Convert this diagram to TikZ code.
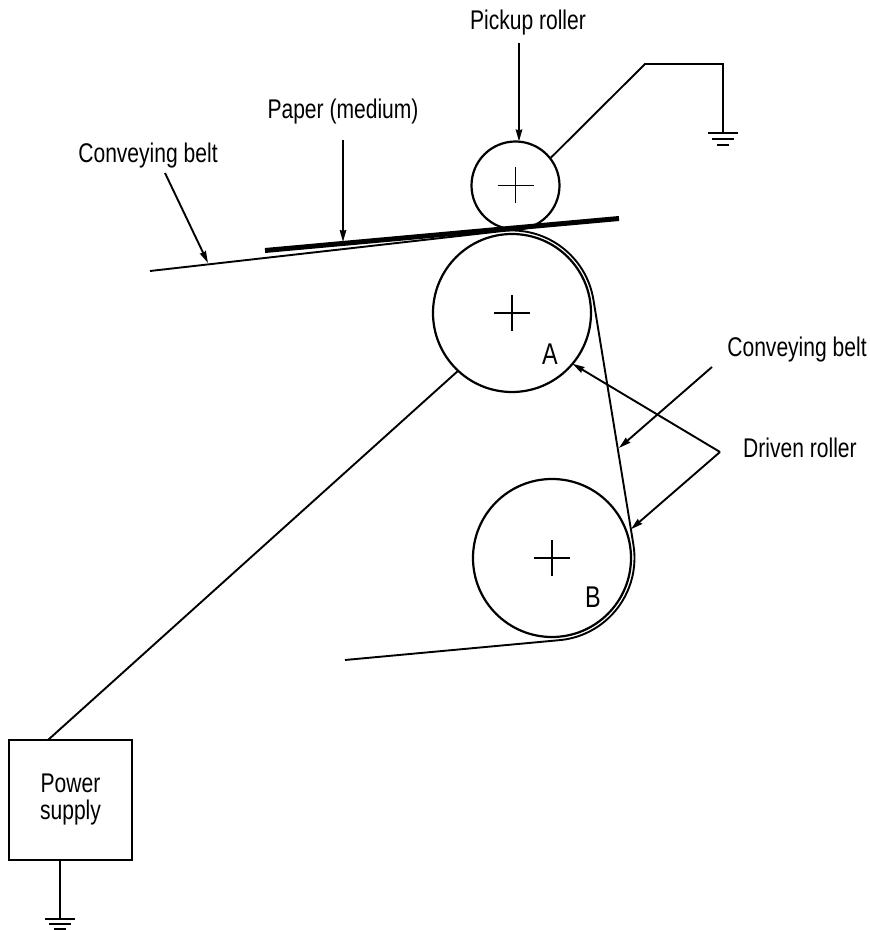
\documentclass[tikz,border=0pt]{standalone}
\usepackage{fontspec}
\setmainfont[FakeStretch=0.78]{Liberation Sans}
\usetikzlibrary{arrows.meta,calc}

\begin{document}
\begin{tikzpicture}[x=1pt,y=1pt,line width=1.9pt,
  roller/.style={circle,draw,line width=2.2pt,inner sep=0pt,outer sep=0pt},
  lbl/.style={inner sep=0pt,font=\fontsize{27}{27}\selectfont},
  arr/.style={-{Stealth[length=12pt,width=6.5pt,inset=1pt]}}]
\useasboundingbox (0,0) rectangle (870,930);
\node [roller,minimum size=88] (pick) at (515.5,744.5) {};
\node [roller,minimum size=158] (A) at (512,617) {};
\node [roller,minimum size=158] (B) at (552,372) {};
\draw [line width=1.5pt] (pick.center) +(-18,0) -- +(18,0) +(0,-18) -- +(0,18);
\draw [line width=1.5pt] (A.center) +(-18,0) -- +(18,0) +(0,-18) -- +(0,18);
\draw [line width=1.5pt] (B.center) +(-18,0) -- +(18,0) +(0,-18) -- +(0,18);
\node [lbl,font=\fontsize{30}{30}\selectfont] (la) at (550,576) {A};
\node [lbl,font=\fontsize{30}{30}\selectfont] (lb) at (593,333) {B};

\coordinate (bl) at (150,659);
\coordinate (br) at (345,270);
\draw (bl) -- ($(A.center)+(96.4:82.5)$) arc [start angle=96.4,end angle=9.27,radius=82.5]
  -- ($(B.center)+(9.27:82.5)$) arc [start angle=9.27,end angle=-84.6,radius=82.5] -- (br);
\draw [line width=5pt] (265,679.5) -- (619,711.5);

\coordinate (g1) at (723,797);
\draw (pick.38) -- (645,866) -- (723,866) -- (g1);
\draw (g1) +(-15,0) -- +(15,0) +(-11,-6) -- +(11,-6) +(-6,-12) -- +(6,-12);

\node [draw,line width=2.2pt,minimum width=123,minimum height=120,outer sep=0pt,lbl,align=center] (psu) at (70.5,130) {Power\\supply};
\draw (A.-133) -- ($(psu.north)+(-22.5,0)$);
\coordinate (g2) at (60,11);
\draw (psu.south -| g2) -- (g2);
\draw (g2) +(-15,0) -- +(15,0) +(-11,-5) -- +(11,-5) +(-6,-10) -- +(6,-10);

\node [lbl] (lpick) at (528,907) {Pickup roller};
\node [lbl] (lpaper) at (343,818) {Paper (medium)};
\node [lbl] (lbelt) at (148,774) {Conveying belt};
\node [lbl] (rbelt) at (797,580) {Conveying belt};
\node [lbl] (ldrv) at (800,482) {Driven roller};

\coordinate (t1) at (519,887);
\draw [arr] (t1) -- (t1 |- pick.north);
\coordinate (t2) at (343,790);
\coordinate (h2) at (343,688);
\draw [arr] (t2) -- (h2);
\coordinate (t3) at (165,757);
\coordinate (h3) at (208,667);
\draw [arr] (t3) -- (h3);
\coordinate (t4) at (712,563);
\coordinate (h4) at (619,482);
\draw [arr] (t4) -- (h4);
\coordinate (v) at (720,478);
\draw [arr] (v) -- (A.-40);
\draw [arr] (v) -- ($(B.center)+(20:84)$);
\end{tikzpicture}
\end{document}
